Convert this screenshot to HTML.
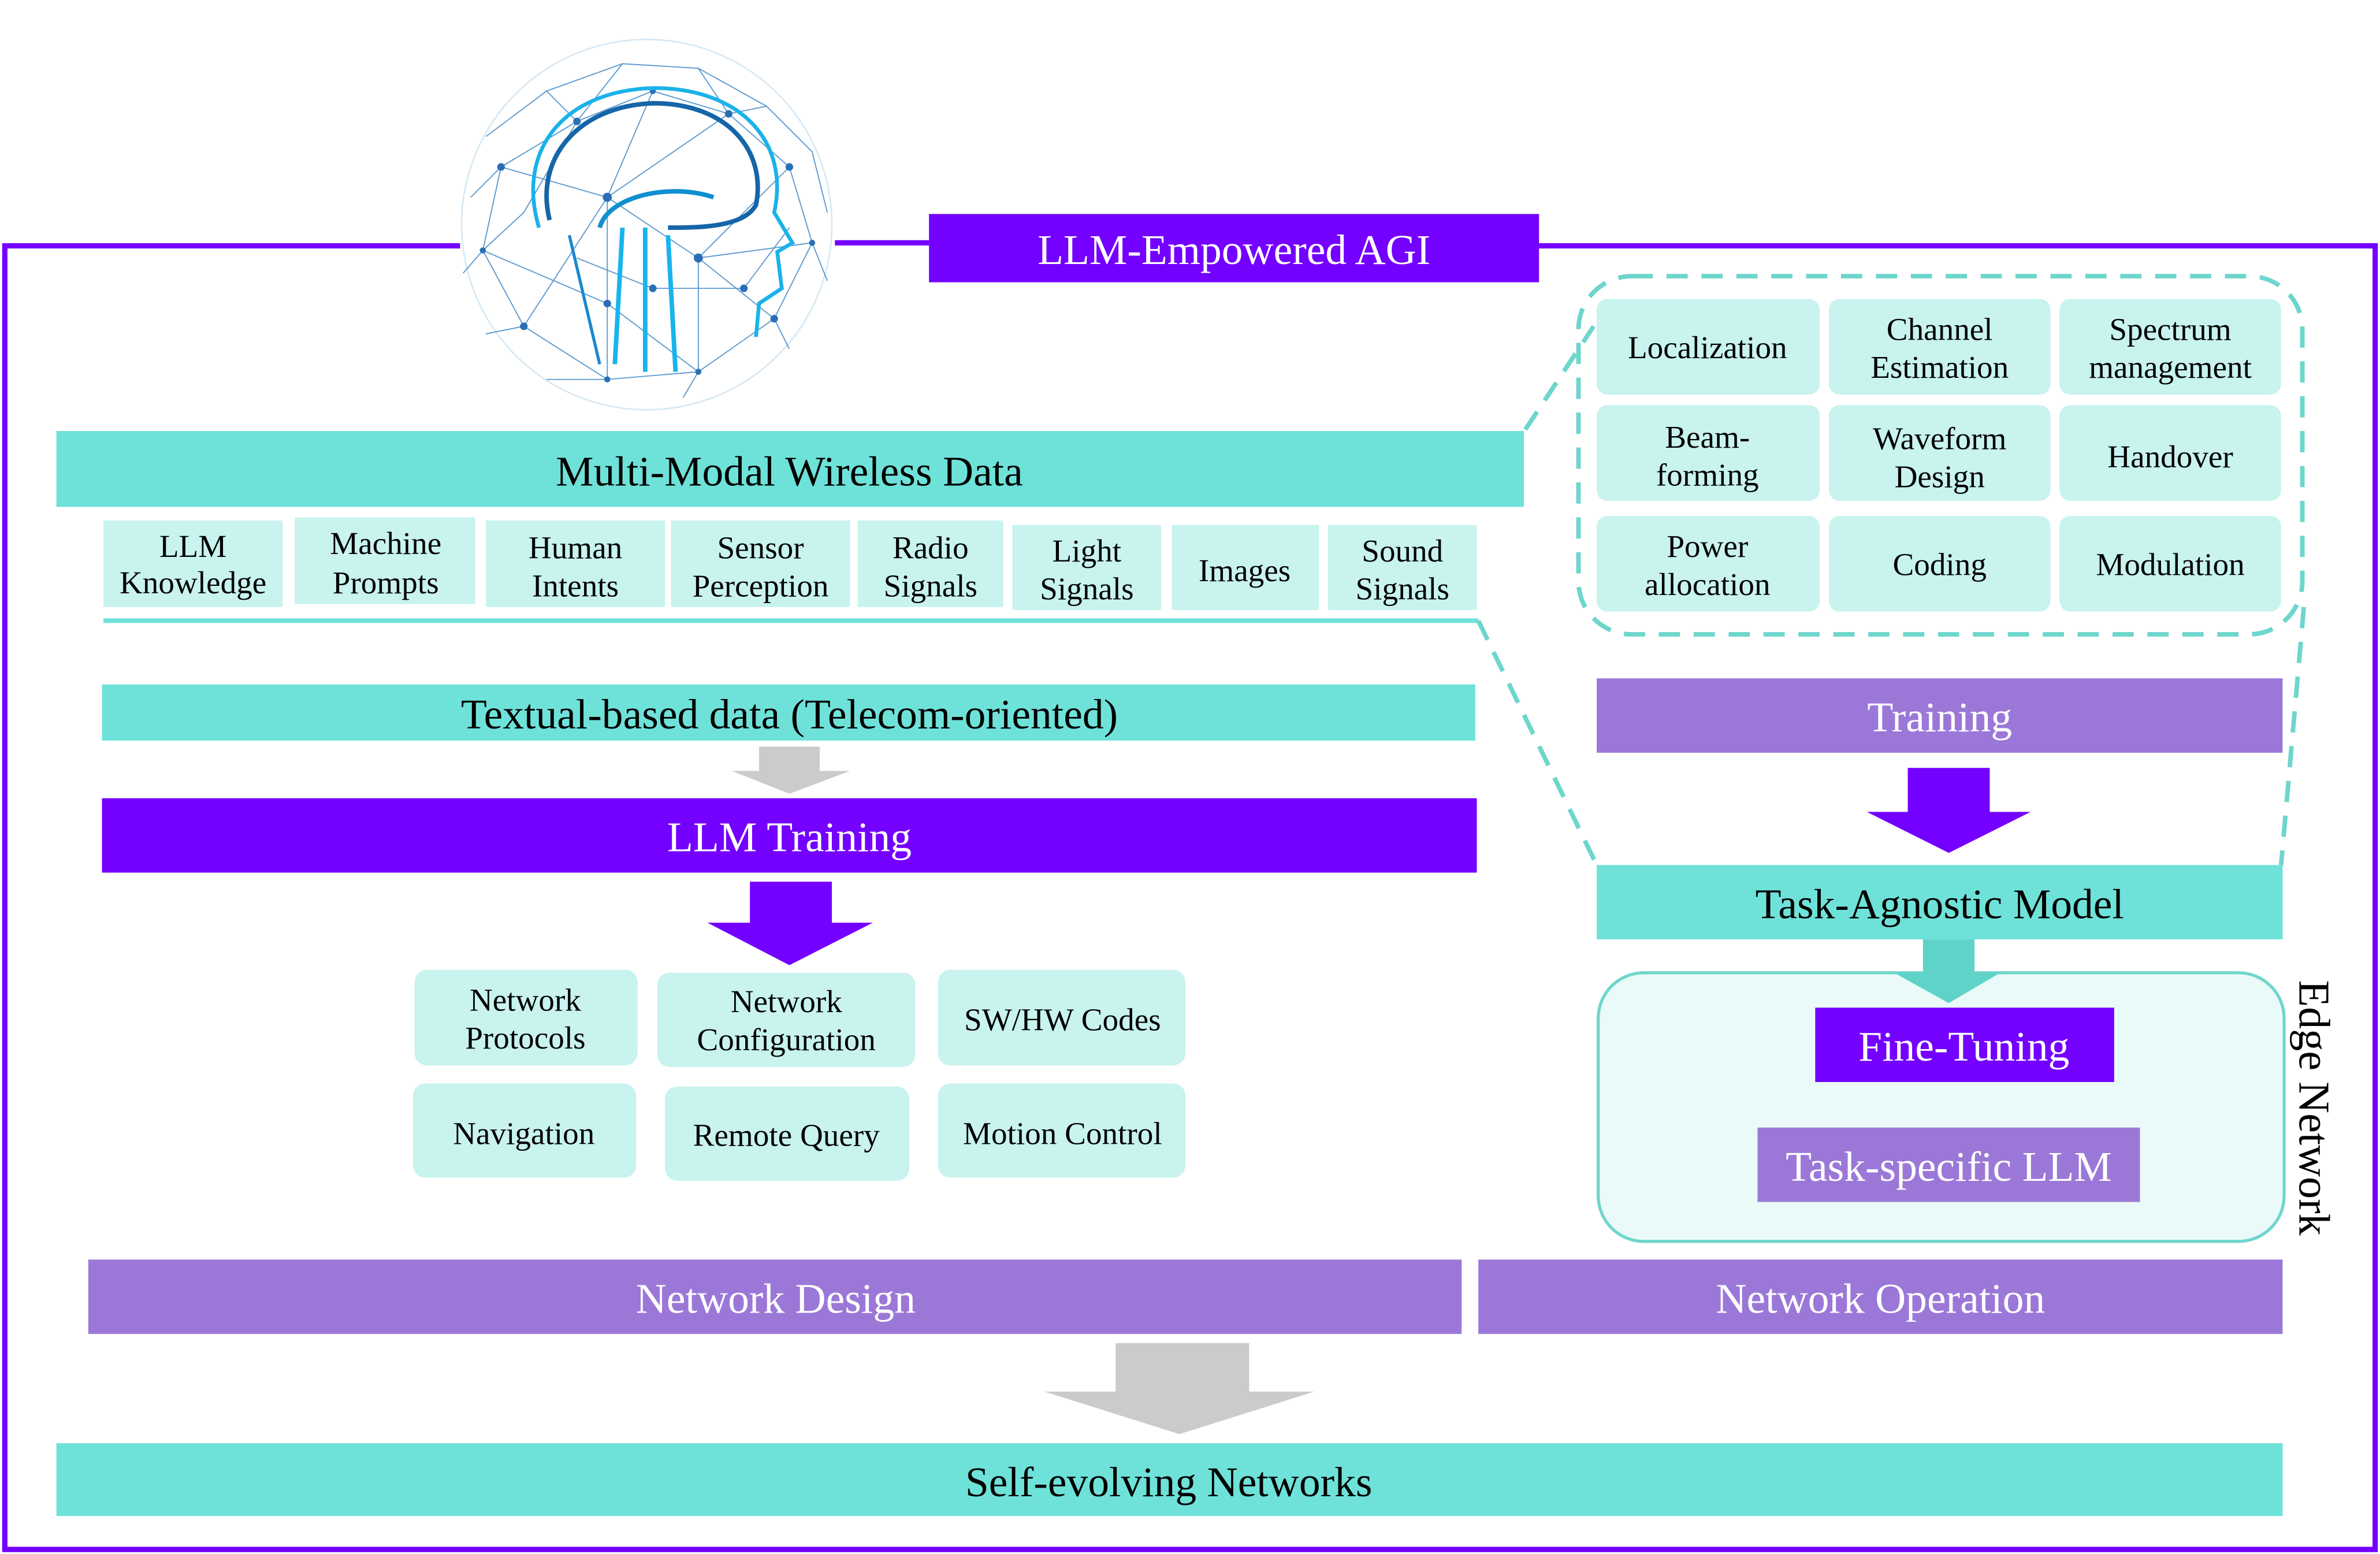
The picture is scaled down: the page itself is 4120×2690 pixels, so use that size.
<!DOCTYPE html>
<html><head><meta charset="utf-8">
<style>
html,body{margin:0;padding:0;background:#fff;}
svg{display:block;}
text{font-family:"Liberation Serif",serif;}
</style></head>
<body>
<svg width="4120" height="2690" viewBox="0 0 1568 1024" xmlns="http://www.w3.org/2000/svg">
<rect width="1568" height="1024" fill="#fff"/>
<path d="M303,162 L3,162 L3,1021 L1565,1021 L1565,162 L1014,162" fill="none" stroke="#7400ff" stroke-width="3.5"/>
<line x1="550" y1="160" x2="612" y2="160" stroke="#7400ff" stroke-width="3.5"/>
<g>
<circle cx="426" cy="148" r="122" fill="#fff" stroke="#d6e8f4" stroke-width="1"/>
<g stroke="#2f7fc4" stroke-width="0.7" fill="none" opacity="0.8">
<path d="M330,110 L380,80 L430,60 L480,75 L520,110 L535,160 L510,210 L460,245 L400,250 L345,215 L318,165 Z"/>
<path d="M330,110 L400,130 L430,60 M400,130 L480,75 M400,130 L345,215 M400,130 L460,170 L520,110 M460,170 L535,160 M460,170 L510,210 M460,170 L460,245 M400,130 L400,250 M318,165 L400,200 L460,245 M380,80 L345,140 L318,165"/>
<path d="M320,90 L360,60 L410,42 L460,45 L505,70 L535,100 L545,140 M310,130 L330,110 M305,180 L318,165 M320,220 L345,215 M360,250 L400,250 M450,262 L460,245 M520,230 L510,210 M545,185 L535,160"/>
<path d="M360,60 L380,80 L410,42 M460,45 L480,75 L505,70 M380,170 L430,190 L490,190 L520,150"/>
</g>
<g fill="#2a6fb5">
<circle cx="330" cy="110" r="2.5"/><circle cx="380" cy="80" r="2.5"/><circle cx="430" cy="60" r="2"/><circle cx="480" cy="75" r="2.5"/><circle cx="520" cy="110" r="2.5"/><circle cx="535" cy="160" r="2"/><circle cx="510" cy="210" r="2.5"/><circle cx="460" cy="245" r="2"/><circle cx="400" cy="250" r="2"/><circle cx="345" cy="215" r="2.5"/><circle cx="318" cy="165" r="2"/><circle cx="400" cy="130" r="3"/><circle cx="460" cy="170" r="3"/><circle cx="400" cy="200" r="2.5"/><circle cx="430" cy="190" r="2.5"/><circle cx="490" cy="190" r="2.5"/>
</g>
<path d="M355,150 C340,100 370,60 430,58 C490,58 520,95 510,140 L522,160 L512,166 L515,190 L500,200 L498,222" fill="none" stroke="#1ab2ea" stroke-width="2.5"/>
<path d="M362,145 C352,105 380,70 430,68 C480,68 505,100 498,135 C490,150 460,150 440,150" fill="none" stroke="#1565a8" stroke-width="3"/>
<path d="M395,150 C400,130 440,120 470,130" fill="none" stroke="#0e8fd0" stroke-width="3"/>
<path d="M410,150 L405,240 M425,150 L425,245 M440,155 L445,245" stroke="#18b4ee" stroke-width="3" fill="none"/>
<path d="M375,155 L395,240" stroke="#1a88cc" stroke-width="2" fill="none"/>
</g>
<rect x="612" y="141" width="402" height="45" fill="#7400ff"/>
<text x="813" y="174" font-size="28" fill="#fff" text-anchor="middle">LLM-Empowered AGI</text>

<rect x="37" y="284" width="967" height="50" fill="#6ee2d9"/>
<text x="520" y="320" font-size="28" fill="#000" text-anchor="middle">Multi-Modal Wireless Data</text>
<g fill="#c8f3ef">
<rect x="68" y="343" width="118" height="57"/>
<rect x="194" y="341" width="119" height="57"/>
<rect x="320" y="343" width="118" height="57"/>
<rect x="442" y="343" width="118" height="57"/>
<rect x="565" y="343" width="96" height="57"/>
<rect x="667" y="346" width="98" height="56"/>
<rect x="772" y="346" width="97" height="56"/>
<rect x="875" y="346" width="98" height="56"/>
</g>
<g font-size="21" text-anchor="middle" fill="#000">
<text x="127" y="367">LLM</text><text x="127" y="391">Knowledge</text>
<text x="254" y="365">Machine</text><text x="254" y="391">Prompts</text>
<text x="379" y="368">Human</text><text x="379" y="393">Intents</text>
<text x="501" y="368">Sensor</text><text x="501" y="393">Perception</text>
<text x="613" y="368">Radio</text><text x="613" y="393">Signals</text>
<text x="716" y="370">Light</text><text x="716" y="395">Signals</text>
<text x="820" y="383">Images</text>
<text x="924" y="370">Sound</text><text x="924" y="395">Signals</text>
</g>
<line x1="68" y1="409" x2="974" y2="409" stroke="#6ee2d9" stroke-width="3"/>
<g stroke="#6ed6cc" stroke-width="3" stroke-dasharray="14,9" fill="none">
<line x1="974" y1="409" x2="1052" y2="570"/>
<line x1="1005" y1="283" x2="1050" y2="215"/>
<line x1="1518" y1="400" x2="1503" y2="570"/>
<rect x="1040" y="182" width="477" height="236" rx="35"/>
</g>
<g fill="#c8f3ef">
<rect x="1052" y="197" width="147" height="63" rx="7"/>
<rect x="1205" y="197" width="146" height="63" rx="7"/>
<rect x="1357" y="197" width="146" height="63" rx="7"/>
<rect x="1052" y="267" width="147" height="63" rx="7"/>
<rect x="1205" y="267" width="146" height="63" rx="7"/>
<rect x="1357" y="267" width="146" height="63" rx="7"/>
<rect x="1052" y="340" width="147" height="63" rx="7"/>
<rect x="1205" y="340" width="146" height="63" rx="7"/>
<rect x="1357" y="340" width="146" height="63" rx="7"/>
</g>
<g font-size="21" text-anchor="middle" fill="#000">
<text x="1125" y="236">Localization</text>
<text x="1278" y="224">Channel</text><text x="1278" y="249">Estimation</text>
<text x="1430" y="224">Spectrum</text><text x="1430" y="249">management</text>
<text x="1125" y="295">Beam-</text><text x="1125" y="320">forming</text>
<text x="1278" y="296">Waveform</text><text x="1278" y="321">Design</text>
<text x="1430" y="308">Handover</text>
<text x="1125" y="367">Power</text><text x="1125" y="392">allocation</text>
<text x="1278" y="379">Coding</text>
<text x="1430" y="379">Modulation</text>
</g>
<rect x="1052" y="447" width="452" height="49" fill="#9b78d8"/>
<text x="1278" y="482" font-size="28" fill="#fff" text-anchor="middle">Training</text>
<path d="M1257,506 H1311 V535 H1338 L1284,562 L1230,535 H1257 Z" fill="#7400ff"/>
<rect x="1052" y="570" width="452" height="49" fill="#6ee2d9"/>
<text x="1278" y="605" font-size="28" fill="#000" text-anchor="middle">Task-Agnostic Model</text>
<rect x="1053" y="641" width="452" height="177" rx="30" fill="#eafaf8" stroke="#6ed6cc" stroke-width="2"/>
<path d="M1267,619 H1301 V641 H1318 L1284,661 L1248,641 H1267 Z" fill="#5fd3c8"/>
<rect x="1196" y="664" width="197" height="49" fill="#7400ff"/>
<text x="1294" y="699" font-size="28" fill="#fff" text-anchor="middle">Fine-Tuning</text>
<rect x="1158" y="743" width="252" height="49" fill="#9b78d8"/>
<text x="1284" y="778" font-size="28" fill="#fff" text-anchor="middle">Task-specific LLM</text>
<text transform="translate(1515,730) rotate(90)" font-size="29" fill="#000" text-anchor="middle">Edge Network</text>

<rect x="67" y="451" width="905" height="37" fill="#6ee2d9"/>
<text x="520" y="480" font-size="28" fill="#000" text-anchor="middle">Textual-based data (Telecom-oriented)</text>
<path d="M500,492 H540 V508 H560 L520,523 L482,508 H500 Z" fill="#cccaca"/>
<rect x="67" y="526" width="906" height="49" fill="#7400ff"/>
<text x="520" y="561" font-size="28" fill="#fff" text-anchor="middle">LLM Training</text>
<path d="M494,581 H548 V608 H575 L520,636 L466,608 H494 Z" fill="#7400ff"/>
<g fill="#c8f3ef">
<rect x="273" y="639" width="147" height="63" rx="8"/>
<rect x="433" y="641" width="170" height="62" rx="8"/>
<rect x="618" y="639" width="163" height="63" rx="8"/>
<rect x="272" y="714" width="147" height="62" rx="8"/>
<rect x="438" y="716" width="161" height="62" rx="8"/>
<rect x="618" y="714" width="163" height="62" rx="8"/>
</g>
<g font-size="21" text-anchor="middle" fill="#000">
<text x="346" y="666">Network</text><text x="346" y="691">Protocols</text>
<text x="518" y="667">Network</text><text x="518" y="692">Configuration</text>
<text x="700" y="679">SW/HW Codes</text>
<text x="345" y="754">Navigation</text>
<text x="518" y="755">Remote Query</text>
<text x="700" y="754">Motion Control</text>
</g>
<rect x="58" y="830" width="905" height="49" fill="#9b78d8"/>
<text x="511" y="865" font-size="28" fill="#fff" text-anchor="middle">Network Design</text>
<rect x="974" y="830" width="530" height="49" fill="#9b78d8"/>
<text x="1239" y="865" font-size="28" fill="#fff" text-anchor="middle">Network Operation</text>
<path d="M735,885 H823 V917 H866 L777,945 L688,917 H735 Z" fill="#cccaca"/>
<rect x="37" y="951" width="1467" height="48" fill="#6ee2d9"/>
<text x="770" y="986" font-size="28" fill="#000" text-anchor="middle">Self-evolving Networks</text>
</svg>
</body></html>
